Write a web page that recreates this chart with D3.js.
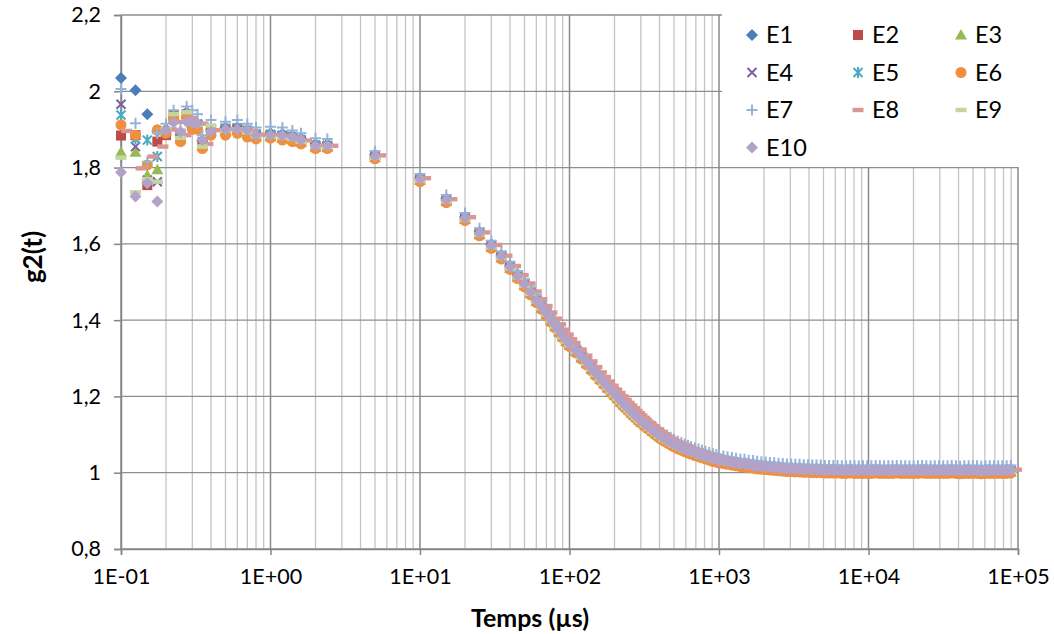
<!DOCTYPE html>
<html><head><meta charset="utf-8">
<script src="https://cdn.jsdelivr.net/npm/d3@7"></script>
<style>
body{margin:0;background:#fff}
text{font-family:Lato,"Open Sans",sans-serif;fill:#000}
</style>
</head><body>
<svg id="chart" width="1054" height="634"></svg>
<script>
// ---------- DATA ----------
const seriesNames = ["E1","E2","E3","E4","E5","E6","E7","E8","E9","E10"];

// lag times (µs), short-lag part where the series differ
const earlyTimes = [0.1,0.125,0.15,0.175,0.2,0.225,0.25,0.275,0.3,0.325,0.35,0.4,0.5,0.6,0.7,0.8,1.0,1.2,1.4,1.6,2.0,2.4];

const E1early  = [2.035,2.003,1.940,1.895,1.900,1.935,1.885,1.945,1.920,1.915,1.870,1.900,1.905,1.905,1.900,1.890,1.890,1.888,1.884,1.876,1.862,1.861];
const E2early  = [1.884,1.885,1.754,1.868,1.885,1.935,1.880,1.940,1.915,1.912,1.862,1.900,1.900,1.902,1.895,1.885,1.884,1.882,1.878,1.870,1.856,1.855];
const E3early  = [1.840,1.840,1.780,1.794,1.895,1.935,1.875,1.940,1.910,1.908,1.855,1.905,1.895,1.898,1.890,1.880,1.880,1.877,1.873,1.866,1.853,1.853];
const E4early  = [1.966,1.855,1.767,1.763,1.890,1.930,1.880,1.940,1.915,1.912,1.865,1.900,1.902,1.903,1.897,1.887,1.886,1.884,1.880,1.872,1.858,1.857];
const E5early  = [1.938,1.875,1.872,1.829,1.895,1.930,1.880,1.940,1.920,1.915,1.868,1.902,1.903,1.904,1.898,1.888,1.887,1.885,1.881,1.873,1.859,1.858];
const E6early  = [1.912,1.885,1.807,1.899,1.890,1.930,1.868,1.935,1.900,1.900,1.850,1.885,1.885,1.890,1.880,1.875,1.877,1.872,1.868,1.862,1.850,1.850];
const E7early  = [2.006,1.916,1.815,1.890,1.915,1.950,1.900,1.960,1.950,1.940,1.885,1.925,1.920,1.925,1.915,1.905,1.907,1.905,1.897,1.890,1.877,1.875];
const E8early  = [1.896,1.798,1.829,1.855,1.900,1.920,1.885,1.930,1.915,1.915,1.862,1.898,1.900,1.900,1.896,1.886,1.886,1.883,1.879,1.871,1.858,1.857];
const E9early  = [1.826,1.735,1.770,1.763,1.900,1.940,1.878,1.945,1.915,1.912,1.855,1.910,1.897,1.900,1.892,1.882,1.882,1.879,1.875,1.868,1.855,1.854];
const E10early = [1.788,1.724,1.759,1.711,1.897,1.918,1.894,1.920,1.918,1.915,1.872,1.894,1.900,1.900,1.898,1.885,1.885,1.884,1.880,1.872,1.857,1.857];

// long-lag part: common decay
const tailTimes = [5,10,15,20,25,30,35,40,45,50,55,60,65,70,75,80,85,90,95,100,
  110,120,130,140,150,160,170,180,190,200,210,220,230,240,250,260,270,280,290,300,
  320,340,360,380,400,425,450,475,500,530,560,590,620,650,690,730,770,810,860,910,960,
  1000,1070,1140,1220,1300,1390,1480,1580,1690,1800,1920,2050,2190,2340,2500,2670,2850,3040,3240,3460,
  3690,3940,4210,4490,4790,5110,5450,5820,6210,6630,7080,7550,8060,8600,9180,9800,10460,11160,11910,12710,
  13570,14480,15450,16490,17600,18790,20050,21400,22840,24370,26010,27760,29630,31620,33750,36020,38440,41020,43780,46730,
  49870,53220,56800,60620,64700,69050,73690,78650,83930,89570];
const tailMean = [1.830,1.770,1.715,1.668,1.628,1.595,1.567,1.540,1.516,1.494,1.473,1.453,1.435,1.418,1.402,1.387,1.373,1.360,1.348,1.338,
  1.321,1.305,1.290,1.275,1.261,1.249,1.237,1.226,1.216,1.207,1.198,1.189,1.181,1.174,1.167,1.160,1.154,1.148,1.142,1.137,
  1.128,1.120,1.112,1.105,1.098,1.091,1.085,1.080,1.075,1.070,1.066,1.062,1.059,1.056,1.052,1.049,1.046,1.043,1.040,1.037,1.035,
  1.033,1.031,1.029,1.027,1.025,1.023,1.022,1.020,1.019,1.017,1.016,1.015,1.014,1.013,1.012,1.011,1.010,1.010,1.009,1.009,
  1.008,1.008,1.007,1.007,1.007,1.006,1.006,1.006,1.006,1.005,1.005,1.006,1.005,1.005,1.005,1.005,1.005,1.006,1.005,1.005,
  1.005,1.005,1.006,1.005,1.005,1.005,1.005,1.005,1.006,1.005,1.005,1.005,1.005,1.005,1.005,1.006,1.005,1.004,1.005,1.005,
  1.005,1.005,1.004,1.005,1.005,1.005,1.005,1.005,1.005,1.006];
const tailShift  = [0.004,-0.002,-0.004,0.002,0.002,-0.007,0.013,0.002,-0.004,0.000];
const timeFactor = [1,1,1,1,1,1,1,1.09,1,1];

const yTickValues = [0.8,1,1.2,1.4,1.6,1.8,2,2.2];
const yTickLabels = ["0,8","1","1,2","1,4","1,6","1,8","2","2,2"];
const xTickValues = [0.1,1,10,100,1000,10000,100000];
const xTickLabels = ["1E-01","1E+00","1E+01","1E+02","1E+03","1E+04","1E+05"];
const xTitle = "Temps (µs)";
const yTitle = "g2(t)";

// ---------- STYLE ----------
const earlyAll = [E1early,E2early,E3early,E4early,E5early,E6early,E7early,E8early,E9early,E10early];
const colors = ["#4A7EBB","#BE4B48","#98B954","#7D60A0","#46AAC5","#F0903E","#95B3D7","#D99694","#C3D69B","#B3A2C7"];
const shapes = ["diamond","square","triangle","x","star","circle","plus","dash","dash","diamond"];

const svg = d3.select("#chart");
const x = d3.scaleLog().domain([0.1,100000]).range([121,1018]);
const y = d3.scaleLinear().domain([0.8,2.2]).range([549,15]);

// minor gridlines
const minor = [];
xTickValues.slice(0,-1).forEach(d => { for (let k=2;k<=9;k++) minor.push(d*k); });
const grid = svg.append("g");
grid.selectAll(".mn").data(minor).enter().append("line")
  .attr("x1",d=>x(d)).attr("x2",d=>x(d)).attr("y1",y(0.8)).attr("y2",y(2.2))
  .attr("stroke","#c4c4c4").attr("stroke-width",1.3);
grid.selectAll(".hz").data(yTickValues).enter().append("line")
  .attr("x1",x(0.1)).attr("x2",x(100000)).attr("y1",d=>y(d)).attr("y2",d=>y(d))
  .attr("stroke","#8e8e8e").attr("stroke-width",1.3);
grid.selectAll(".mj").data(xTickValues).enter().append("line")
  .attr("x1",d=>x(d)).attr("x2",d=>x(d)).attr("y1",y(0.8)).attr("y2",y(2.2))
  .attr("stroke","#8a8a8a").attr("stroke-width",1.5);

// axes
const yAxis = svg.append("g").attr("transform",`translate(${x(0.1)},0)`)
  .call(d3.axisLeft(y).tickValues(yTickValues).tickFormat((d,i)=>yTickLabels[i]).tickSize(7).tickPadding(13));
const xAxis = svg.append("g").attr("transform",`translate(0,${y(0.8)})`)
  .call(d3.axisBottom(x).tickValues(xTickValues).tickFormat((d,i)=>xTickLabels[i]).tickSize(6).tickPadding(14));
[yAxis,xAxis].forEach(a=>{
  a.select(".domain").attr("stroke","#868686").attr("stroke-width",1.5);
  a.selectAll(".tick line").attr("stroke","#868686").attr("stroke-width",1.5);
  a.selectAll("text").style("font-size","21.5px").attr("fill","#000");
});

// marker drawing
function marker(g, shape, color){
  switch(shape){
    case "diamond": g.append("path").attr("d","M0,-6L6,0L0,6L-6,0Z").attr("fill",color); break;
    case "square": g.append("rect").attr("x",-5).attr("y",-5).attr("width",10).attr("height",10).attr("fill",color); break;
    case "triangle": g.append("path").attr("d","M0,-6L6,4.5L-6,4.5Z").attr("fill",color); break;
    case "circle": g.append("circle").attr("r",5.5).attr("fill",color); break;
    case "x": g.append("path").attr("d","M-4.5,-4.5L4.5,4.5M-4.5,4.5L4.5,-4.5").attr("stroke",color).attr("stroke-width",2).attr("fill","none"); break;
    case "star": g.append("path").attr("d","M-4.5,-4.5L4.5,4.5M-4.5,4.5L4.5,-4.5M0,-5.5L0,5.5").attr("stroke",color).attr("stroke-width",2).attr("fill","none"); break;
    case "plus": g.append("path").attr("d","M-5.5,0L5.5,0M0,-5.5L0,5.5").attr("stroke",color).attr("stroke-width",2).attr("fill","none"); break;
    case "dash": g.append("rect").attr("x",-5.5).attr("y",-2.2).attr("width",11).attr("height",4.4).attr("fill",color); break;
  }
}

// series
const plot = svg.append("g");
seriesNames.forEach((name,i)=>{
  const times = earlyTimes.concat(tailTimes).map(t=>t*timeFactor[i]);
  const vals = earlyAll[i].concat(tailMean.map(v=>v+tailShift[i]));
  const pts = times.map((t,j)=>({t, v: vals[j]}));
  const g = plot.append("g").attr("class","series");
  g.selectAll("g").data(pts).enter().append("g")
    .attr("transform",d=>`translate(${x(d.t)},${y(d.v)})`)
    .each(function(){ marker(d3.select(this), shapes[i], colors[i]); });
});

// legend
const leg = svg.append("g");
leg.append("rect").attr("x",722).attr("y",4).attr("width",312).attr("height",163).attr("fill","#fff");
const colX = [752,858,961], rowY = [35,72.5,110,147.5];
seriesNames.forEach((name,i)=>{
  const cx = colX[i%3], cy = rowY[Math.floor(i/3)];
  const g = leg.append("g").attr("transform",`translate(${cx},${cy})`);
  marker(g, shapes[i], colors[i]);
  leg.append("text").attr("x",cx+14).attr("y",cy).attr("dy","0.36em")
    .style("font-size","23.5px").text(name);
});

// titles
svg.append("text").attr("x",530).attr("y",618).attr("text-anchor","middle").attr("dy","0.35em")
  .style("font-size","25px").style("font-weight","bold").text(xTitle);
svg.append("text").attr("transform","translate(33,257) rotate(-90)").attr("text-anchor","middle").attr("dy","0.35em")
  .style("font-size","26px").style("font-weight","bold").text(yTitle);
</script>
</body></html>
